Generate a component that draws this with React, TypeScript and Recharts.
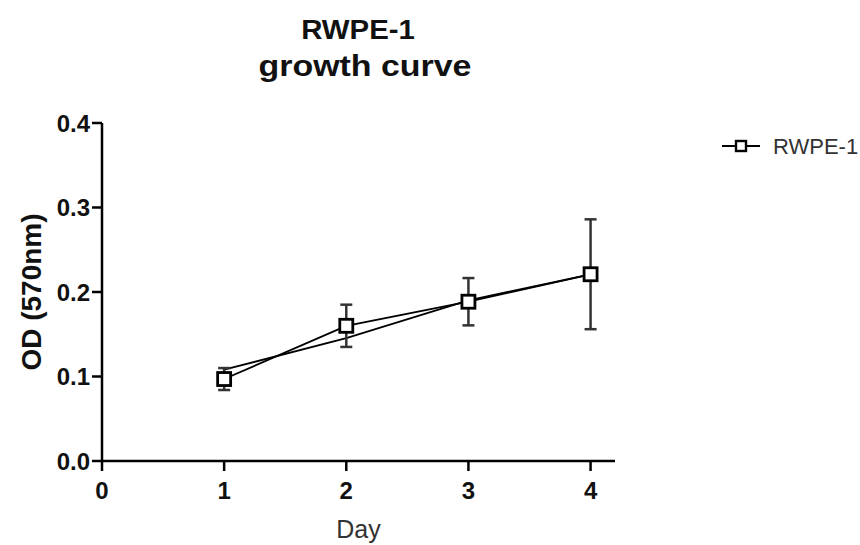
import React from 'react';
import { LineChart, Line, XAxis, YAxis, ErrorBar } from 'recharts';

const days = [1, 2, 3, 4];
const odMean = [0.097, 0.16, 0.1885, 0.221];
const odSd = [0.013, 0.025, 0.028, 0.065];
const odReplicate = [0.108, 0.1455, 0.19, 0.221];
const xTicks = [0, 1, 2, 3, 4];
const yTicks = [0, 0.1, 0.2, 0.3, 0.4];
const titleLines = ['RWPE-1', 'growth curve'];
const seriesName = 'RWPE-1';

const data = days.map((d, i) => ({
  day: d,
  mean: odMean[i],
  sd: odSd[i],
  rep: odReplicate[i],
}));

const FONT = '"Liberation Sans", Arial, sans-serif';

const SquareDot = (props: any) => {
  const { cx, cy, index } = props;
  if (cx == null || cy == null) return <g key={`d${index}`} />;
  return (
    <rect
      key={`d${index}`}
      x={cx - 6.5}
      y={cy - 6.5}
      width={13}
      height={13}
      fill="#fff"
      stroke="#000"
      strokeWidth={2.8}
    />
  );
};

export default function App() {
  return (
    <div style={{ position: 'absolute', left: 0, top: 0, width: 860, height: 545, background: '#fff' }}>
      <LineChart
        width={860}
        height={545}
        data={data}
        margin={{ top: 123, right: 245, bottom: 0, left: 42 }}
      >
        <XAxis
          type="number"
          dataKey="day"
          domain={[0, 4.2]}
          ticks={xTicks}
          allowDataOverflow
          axisLine={{ stroke: '#000', strokeWidth: 2.5 }}
          tickLine={{ stroke: '#000', strokeWidth: 2.5 }}
          tickSize={10}
          tickMargin={11}
          height={84}
          tick={{ fill: '#111', fontSize: 24, fontWeight: 'bold', fontFamily: FONT }}
          label={{
            content: (p: any) => {
              const vb = p.viewBox || { x: 102, width: 513 };
              return (
                <text
                  x={vb.x + vb.width / 2}
                  y={538}
                  textAnchor="middle"
                  fontFamily={FONT}
                  fontSize={25}
                  fill="#333"
                >
                  Day
                </text>
              );
            },
          }}
        />
        <YAxis
          type="number"
          domain={[0, 0.4]}
          ticks={yTicks}
          width={60}
          tickFormatter={(v: number) => v.toFixed(1)}
          axisLine={{ stroke: '#000', strokeWidth: 2.5 }}
          tickLine={{ stroke: '#000', strokeWidth: 2.5 }}
          tickSize={10}
          tickMargin={2}
          tick={{ fill: '#111', fontSize: 24, fontWeight: 'bold', fontFamily: FONT }}
          label={{
            content: () => (
              <text
                x={31}
                y={292}
                transform="rotate(-90 31 292)"
                textAnchor="middle"
                dominantBaseline="central"
                fontFamily={FONT}
                fontWeight="bold"
                fontSize={28}
                fill="#111"
              >
                OD (570nm)
              </text>
            ),
          }}
        />
        <Line
          type="linear"
          dataKey="rep"
          stroke="#000"
          strokeWidth={1.8}
          dot={false}
          activeDot={false}
          legendType="none"
          isAnimationActive={false}
        />
        <Line
          type="linear"
          dataKey="mean"
          name={seriesName}
          stroke="#000"
          strokeWidth={1.8}
          dot={SquareDot}
          activeDot={false}
          isAnimationActive={false}
        >
          <ErrorBar dataKey="sd" direction="y" width={6} stroke="#333" strokeWidth={2.5} />
        </Line>
      </LineChart>
      <svg
        width={860}
        height={545}
        style={{ position: 'absolute', left: 0, top: 0, pointerEvents: 'none' }}
      >
        <g transform="translate(358 39) scale(1.05 1)">
          <text x={0} y={0} textAnchor="middle" fontFamily={FONT} fontWeight="bold" fontSize={28} fill="#111">
            {titleLines[0]}
          </text>
        </g>
        <g transform="translate(365 76) scale(1.17 1)">
          <text x={0} y={0} textAnchor="middle" fontFamily={FONT} fontWeight="bold" fontSize={29} fill="#111">
            {titleLines[1]}
          </text>
        </g>
        <g>
          <line x1={722} y1={146} x2={760} y2={146} stroke="#000" strokeWidth={1.8} />
          <rect x={736} y={141} width={10} height={10} fill="#fff" stroke="#000" strokeWidth={2.4} />
          <text x={773} y={154} fontFamily={FONT} fontSize={22} fill="#333">
            {seriesName}
          </text>
        </g>
      </svg>
    </div>
  );
}
